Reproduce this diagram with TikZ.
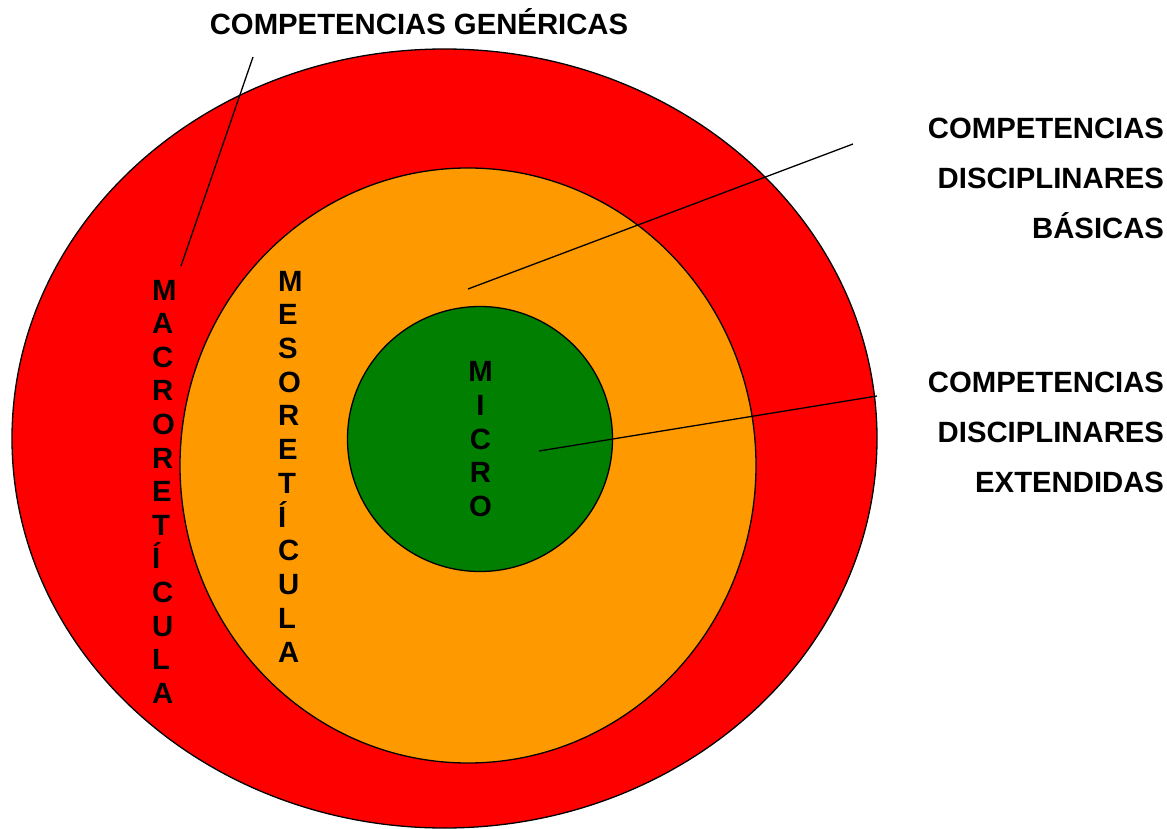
\documentclass[tikz,border=0pt]{standalone}
\usepackage{fontspec}
\setmainfont{Liberation Sans}
\usetikzlibrary{shapes.geometric}
\definecolor{ringred}{HTML}{FF0000}
\definecolor{ringorange}{HTML}{FF9900}
\definecolor{ringgreen}{HTML}{007F00}
\tikzset{
  ring/.style={ellipse, draw=black, line width=1.3pt, inner sep=0pt, outer sep=0pt},
  lbl/.style={font=\fontsize{29.3}{35}\selectfont\bfseries, inner sep=0pt, outer sep=0pt, text=black},
  vlet/.style={lbl, anchor=base west},
  vcen/.style={lbl, anchor=base},
  rlbl/.style={lbl, anchor=base east},
  leader/.style={draw=black, line width=1.3pt}
}
\begin{document}
\begin{tikzpicture}[x=1pt,y=-1pt]
\useasboundingbox (0,0) rectangle (1167,829);
% rings
\node[ring, fill=ringred, minimum width=865pt, minimum height=779pt] (macro) at (444.5,438.5) {};
\node[ring, fill=ringorange, minimum width=576pt, minimum height=595pt] (meso) at (468,465.5) {};
\node[ring, fill=ringgreen, minimum width=265pt, minimum height=265pt] (micro) at (480,439) {};
% vertical words
\foreach \l [count=\i from 0] in {M,A,C,R,O,R,E,T,Í,C,U,L,A}
  \node[vlet] (macrol\i) at (152,300+33.6*\i) {\l};
\foreach \l [count=\i from 0] in {M,E,S,O,R,E,T,Í,C,U,L,A}
  \node[vlet] (mesol\i) at (278,291+33.73*\i) {\l};
\foreach \l [count=\i from 0] in {M,I,C,R,O}
  \node[vcen] (microl\i) at (480.5,381.5+33.75*\i) {\l};
% labels
\node[vcen] (gen) at (419,35) {COMPETENCIAS GENÉRICAS};
\node[rlbl] (bas1) at (1164,139) {COMPETENCIAS};
\node[rlbl] (bas2) at (1164,189) {DISCIPLINARES};
\node[rlbl] (bas3) at (1164,239) {BÁSICAS};
\node[rlbl] (ext1) at (1164,392) {COMPETENCIAS};
\node[rlbl] (ext2) at (1164,442) {DISCIPLINARES};
\node[rlbl] (ext3) at (1164,492) {EXTENDIDAS};
% leader lines
\coordinate (genA) at (253,57);
\coordinate (genB) at (181,266);
\coordinate (basA) at (853,144);
\coordinate (basB) at (468,289);
\coordinate (extA) at (877,396);
\coordinate (extB) at (539,451);
\draw[leader] (genA) -- (genB);
\draw[leader] (basA) -- (basB);
\draw[leader] (extA) -- (extB);
\end{tikzpicture}
\end{document}
